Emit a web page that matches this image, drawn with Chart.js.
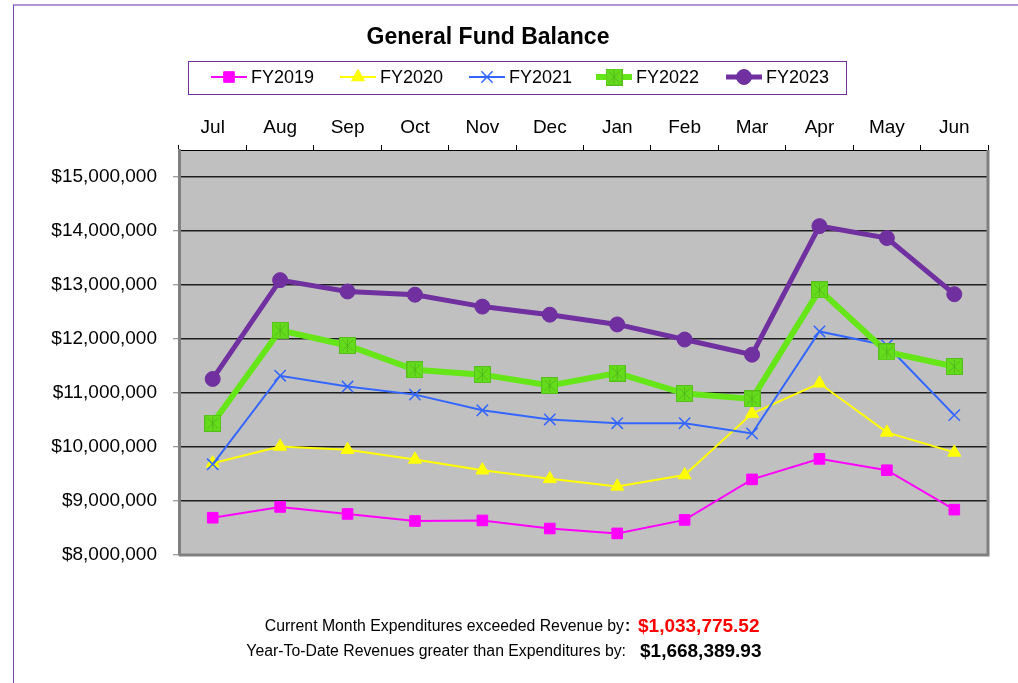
<!DOCTYPE html>
<html>
<head>
<meta charset="utf-8">
<title>General Fund Balance</title>
<script src="https://cdn.jsdelivr.net/npm/chart.js@4.4.1/dist/chart.umd.min.js"></script>
<style>
  html, body { margin: 0; padding: 0; background: #ffffff; }
  canvas { display: block; }
</style>
</head>
<body>
<canvas id="fundChart" width="1018" height="683"></canvas>
<script>
// Meses do ano fiscal (eixo X no topo)
const months = ['Jul', 'Aug', 'Sep', 'Oct', 'Nov', 'Dec', 'Jan', 'Feb', 'Mar', 'Apr', 'May', 'Jun'];

// Saldo do fundo geral por ano fiscal
const fy2019 = [8690000, 8890000, 8760000, 8630000, 8640000, 8490000, 8400000, 8650000, 9400000, 9780000, 9570000, 8840000];
const fy2020 = [9700000, 10010000, 9950000, 9770000, 9570000, 9410000, 9270000, 9480000, 10620000, 11180000, 10270000, 9900000];
const fy2021 = [9680000, 11320000, 11120000, 10970000, 10680000, 10510000, 10440000, 10440000, 10250000, 12140000, 11880000, 10590000];
const fy2022 = [10440000, 12160000, 11880000, 11430000, 11340000, 11140000, 11370000, 10990000, 10890000, 12910000, 11760000, 11490000];
const fy2023 = [11260000, 13090000, 12880000, 12820000, 12600000, 12450000, 12270000, 11990000, 11710000, 14090000, 13870000, 12830000];

const seriesNames = ['FY2019', 'FY2020', 'FY2021', 'FY2022', 'FY2023'];

// Eixo Y
const yMin = 8000000;
const yMax = 15500000;
const yTicks = [8000000, 9000000, 10000000, 11000000, 12000000, 13000000, 14000000, 15000000];

// Textos do rodapé
const footerLabels = ['Current Month Expenditures exceeded Revenue by', 'Year-To-Date Revenues greater than Expenditures by:'];
const footerValues = ['$1,033,775.52', '$1,668,389.93'];

const FONT = '"Liberation Sans", Arial, sans-serif';

// Marcador quadrado verde com textura (estilo Excel)
function greenMarker() {
    const c = document.createElement('canvas');
    c.width = 17; c.height = 17;
    const g = c.getContext('2d');
    g.fillStyle = '#64dc1c';
    g.fillRect(0, 0, 17, 17);
    g.strokeStyle = 'rgba(70,160,25,0.55)';
    g.lineWidth = 1;
    g.beginPath();
    g.moveTo(3, 3); g.lineTo(14, 14);
    g.moveTo(14, 3); g.lineTo(3, 14);
    g.moveTo(8.5, 2); g.lineTo(8.5, 15);
    g.stroke();
    g.strokeStyle = 'rgba(80,175,30,0.7)';
    g.strokeRect(0.5, 0.5, 16, 16);
    return c;
}

const datasets = [
    { label: seriesNames[0], data: fy2019, borderColor: '#ff00ff', backgroundColor: '#ff00ff', borderWidth: 2,
      pointStyle: 'rect', pointRadius: 7.5, pointBorderWidth: 1, order: 5 },
    { label: seriesNames[1], data: fy2020, borderColor: '#ffff00', backgroundColor: '#ffff00', borderWidth: 2,
      pointStyle: 'triangle', pointRadius: 7.5, pointBorderWidth: 1, order: 4 },
    { label: seriesNames[2], data: fy2021, borderColor: '#3366ff', backgroundColor: '#3366ff', borderWidth: 2,
      pointStyle: 'crossRot', pointRadius: 8, pointBorderWidth: 1.5, order: 3 },
    { label: seriesNames[3], data: fy2022, borderColor: '#66e619', backgroundColor: '#66e619', borderWidth: 6,
      pointStyle: greenMarker(), pointRadius: 9, pointBorderWidth: 0, order: 2 },
    { label: seriesNames[4], data: fy2023, borderColor: '#7030a0', backgroundColor: '#7030a0', borderWidth: 5,
      pointStyle: 'circle', pointRadius: 7.5, pointBorderWidth: 1, order: 1 },
];

// Plugin: moldura, fundo cinza, título, legenda e rodapé
const decorations = {
    id: 'decorations',
    beforeDraw(chart) {
        const ctx = chart.ctx;
        const a = chart.chartArea;
        ctx.save();
        ctx.fillStyle = '#c0c0c0';
        ctx.fillRect(a.left, a.top, a.right - a.left, a.bottom - a.top);
        // moldura externa
        ctx.strokeStyle = '#b294d6';
        ctx.lineWidth = 2;
        ctx.beginPath(); ctx.moveTo(13, 5); ctx.lineTo(1018, 5); ctx.stroke();
        ctx.strokeStyle = '#7a3fb0';
        ctx.lineWidth = 1;
        ctx.beginPath(); ctx.moveTo(13.5, 5); ctx.lineTo(13.5, 683); ctx.stroke();
        ctx.restore();
    },
    afterDatasetsDraw(chart) {
        const ctx = chart.ctx;
        const a = chart.chartArea;
        ctx.save();
        ctx.strokeStyle = '#808080';
        ctx.lineWidth = 3;
        ctx.beginPath();
        ctx.moveTo(a.left, a.bottom);
        ctx.lineTo(a.right, a.bottom);
        ctx.lineTo(a.right, a.top);
        ctx.stroke();
        ctx.restore();
    },
    afterDraw(chart) {
        const ctx = chart.ctx;
        ctx.save();
        // título
        ctx.fillStyle = '#000';
        ctx.font = 'bold 23px ' + FONT;
        ctx.textAlign = 'center';
        ctx.textBaseline = 'middle';
        ctx.fillText('General Fund Balance', 488, 38);

        // legenda
        ctx.strokeStyle = '#7030a0';
        ctx.lineWidth = 1;
        ctx.strokeRect(188.5, 61.5, 658, 33);
        const centers = [229, 358, 487, 614, 744];
        chart.data.datasets.forEach((ds, i) => {
            const cx = centers[i], cy = 77;
            ctx.strokeStyle = ds.borderColor;
            ctx.lineWidth = ds.borderWidth;
            ctx.beginPath(); ctx.moveTo(cx - 18, cy); ctx.lineTo(cx + 18, cy); ctx.stroke();
            ctx.fillStyle = ds.backgroundColor;
            ctx.lineWidth = ds.pointBorderWidth || 1;
            Chart.helpers.drawPoint(ctx, {
                pointStyle: ds.pointStyle, radius: ds.pointRadius, rotation: 0,
                borderWidth: ds.pointBorderWidth || 0
            }, cx, cy);
            ctx.fillStyle = '#000';
            ctx.font = '18px ' + FONT;
            ctx.textAlign = 'left';
            ctx.textBaseline = 'middle';
            ctx.fillText(ds.label, cx + 22, cy + 1);
        });

        // rodapé
        const rows = [627, 652];
        const labelEnds = [624, 626];
        ctx.textBaseline = 'middle';
        footerLabels.forEach((t, i) => {
            ctx.fillStyle = '#000';
            ctx.font = '15.8px ' + FONT;
            ctx.textAlign = 'right';
            ctx.fillText(t, labelEnds[i], rows[i]);
            if (i === 0) {
                ctx.font = 'bold 15.8px ' + FONT;
                ctx.textAlign = 'left';
                ctx.fillText(':', 625, rows[i]);
            }
            ctx.font = 'bold 19px ' + FONT;
            ctx.textAlign = 'left';
            ctx.fillStyle = i === 0 ? '#ff0000' : '#000000';
            ctx.fillText(footerValues[i], i === 0 ? 638 : 640, rows[i]);
        });
        ctx.restore();
    }
};

new Chart(document.getElementById('fundChart').getContext('2d'), {
    type: 'line',
    data: { labels: months, datasets: datasets },
    options: {
        responsive: false,
        animation: false,
        layout: { padding: { top: 0, left: 0, right: 30, bottom: 128 } },
        elements: { line: { tension: 0 } },
        plugins: {
            legend: { display: false },
            title: { display: false },
            tooltip: { enabled: false }
        },
        scales: {
            x: {
                position: 'top',
                offset: true,
                afterFit: (s) => { s.height = 150; },
                grid: { offset: true, drawOnChartArea: false, drawTicks: true, tickLength: 5, color: '#000', lineWidth: 1 },
                border: { display: true, color: '#000', width: 1 },
                ticks: { color: '#000', padding: 6, maxRotation: 0, font: { size: 19, family: FONT } }
            },
            y: {
                min: yMin,
                max: yMax,
                afterFit: (s) => { s.width = 179; },
                afterBuildTicks: (s) => { s.ticks = yTicks.map(v => ({ value: v })); },
                grid: { color: '#1e1e1e', lineWidth: 1.5, tickLength: 6, tickColor: '#808080', tickWidth: 1 },
                border: { display: true, color: '#808080', width: 3 },
                ticks: {
                    color: '#000',
                    padding: 16,
                    font: { size: 19, family: FONT },
                    callback: (v) => '$' + Number(v).toLocaleString('en-US')
                }
            }
        }
    },
    plugins: [decorations]
});
</script>
</body>
</html>
